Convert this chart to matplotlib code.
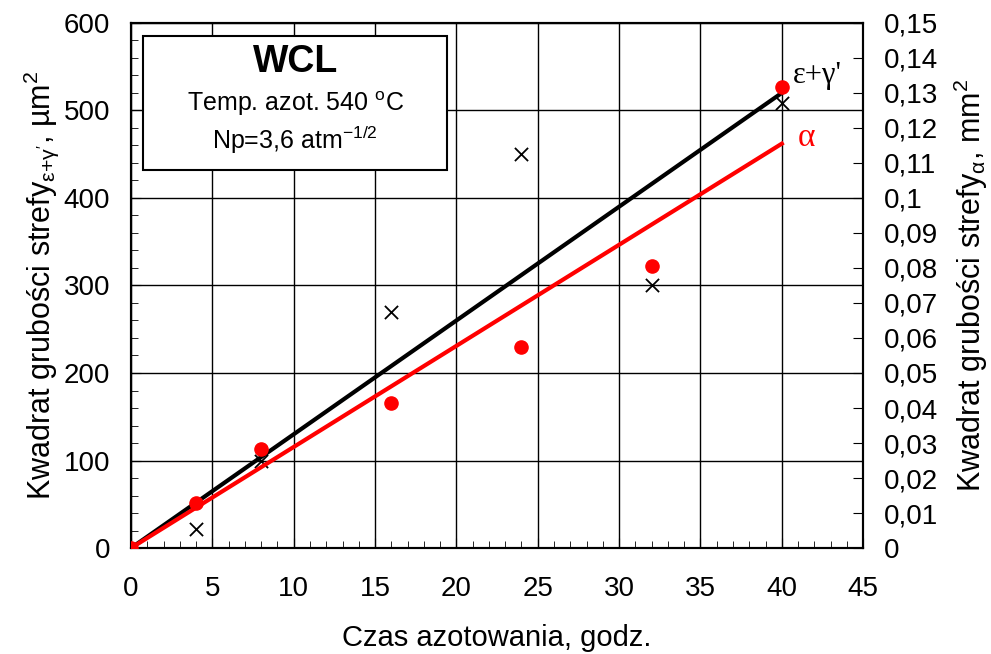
import matplotlib.pyplot as plt
from matplotlib.patches import Rectangle
from matplotlib.ticker import MultipleLocator, FuncFormatter

plt.rcParams['font.family'] = ['Liberation Sans', 'DejaVu Sans']

# czas azotowania, godz.
czas = [0, 4, 8, 16, 24, 32, 40]
# ε+γ' (µm²), lewa oś
eg = [0, 22, 100, 270, 450, 300, 508]
# α (mm²), prawa oś
alfa = [0, 0.013, 0.0283, 0.0413, 0.0575, 0.0805, 0.1318]
# linie trendu
fit_x = [0, 40]
fit_eg = [0, 520]
fit_alfa = [0, 0.1155]

fig = plt.figure(figsize=(9.91, 6.54), dpi=100)
ax = fig.add_axes([0.1322, 0.162, 0.7388, 0.803])
ax2 = ax.twinx()

ax.set_xlim(0, 45)
ax.set_ylim(0, 600)
ax2.set_ylim(0, 0.15)

ax.grid(True, color="black", lw=1.0)
ax.set_axisbelow(True)

ax.plot(fit_x, fit_eg, color="black", lw=3, zorder=3)
ax.scatter(czas, eg, marker="x", s=90, color="black", lw=1.3, zorder=4)
ax2.plot(fit_x, fit_alfa, color="red", lw=3, zorder=3)
ax2.scatter(czas, alfa, marker="o", s=90, color="red", zorder=4)

ax.xaxis.set_major_locator(MultipleLocator(5))
ax.xaxis.set_minor_locator(MultipleLocator(1))
ax.yaxis.set_major_locator(MultipleLocator(100))
ax.yaxis.set_minor_locator(MultipleLocator(20))
ax2.yaxis.set_major_locator(MultipleLocator(0.01))

ax.tick_params(axis="both", which="both", direction="in", labelsize=20)
ax.tick_params(axis="x", which="major", length=7, pad=20)
ax.tick_params(axis="x", which="minor", length=5)
ax.tick_params(axis="y", which="major", length=7, pad=15)
ax.tick_params(axis="y", which="minor", length=5)
ax2.tick_params(axis="y", direction="in", length=7, labelsize=20, pad=15)

ax2.yaxis.set_major_formatter(FuncFormatter(
    lambda v, p: "0" if abs(v) < 1e-9 else ("%.2f" % v).rstrip("0").replace(".", ",")))

for a in (ax, ax2):
    for s in a.spines.values():
        s.set_linewidth(1.5)

ax.set_xlabel("Czas azotowania, godz.", fontsize=21, labelpad=16)
ax.set_ylabel("Kwadrat grubości strefy$_{\\mathregular{ε{+}γ'}}$, µm$^{\\mathregular{2}}$",
              fontsize=22, labelpad=2)
ax2.set_ylabel("Kwadrat grubości strefy$_{\\mathregular{α}}$, mm$^{\\mathregular{2}}$",
               fontsize=22, labelpad=10)

box = Rectangle((0.017, 0.72), 0.415, 0.255, transform=ax.transAxes,
                facecolor="white", edgecolor="black", lw=1.5, zorder=5)
ax.add_patch(box)
ax.text(0.2245, 0.925, "WCL", transform=ax.transAxes, ha="center", va="center",
        fontsize=27, fontweight="bold", zorder=6)
ax.text(0.2245, 0.846, "Temp. azot. 540 $^{\\mathregular{o}}$C", transform=ax.transAxes,
        ha="center", va="center", fontsize=18, zorder=6)
ax.text(0.2245, 0.777, "Np=3,6 atm$^{\\mathregular{-1/2}}$", transform=ax.transAxes,
        ha="center", va="center", fontsize=18, zorder=6)

ax.text(40.7, 540, "ε+γ'", fontsize=22, family="Liberation Serif", ha="left", va="center", zorder=6)
ax.text(41.0, 469, "α", fontsize=24, family="Liberation Serif", color="red", ha="left", va="center", zorder=6)

fig.savefig("out.png", dpi=100)
